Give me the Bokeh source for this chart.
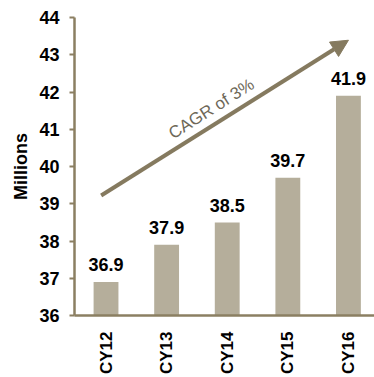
import math

from bokeh.core.properties import value
from bokeh.embed import file_html
from bokeh.models import (Arrow, ColumnDataSource, FixedTicker, Label,
                          NormalHead, Range1d, Title)
from bokeh.plotting import figure
from bokeh.resources import INLINE

# Yearly values, in millions
years = ["CY12", "CY13", "CY14", "CY15", "CY16"]
values = [36.9, 37.9, 38.5, 39.7, 41.9]
y_ticks = [36, 37, 38, 39, 40, 41, 42, 43, 44]

BAR = "#B5AE9B"
AXIS = "#8B7F62"
ARROW = "#857A5F"
FONT = "Liberation Sans"

idx = list(range(len(years)))
src = ColumnDataSource(dict(x=idx, top=values, label=[f"{v:.1f}" for v in values]))

p = figure(width=374, height=377, output_backend="svg", toolbar_location=None,
           x_range=Range1d(-0.52, 4.43), y_range=Range1d(36, 44),
           min_border_left=74, min_border_right=0, min_border_top=17,
           min_border_bottom=59)
p.outline_line_color = None
p.grid.visible = False
p.background_fill_color = "white"
p.border_fill_color = "white"

p.vbar(x="x", top="top", bottom=36, width=0.41, source=src,
       fill_color=BAR, line_color=None)

p.text(x="x", y="top", text="label", source=src, y_offset=-17,
       text_align="center", text_baseline="alphabetic",
       text_font=value(FONT), text_font_style="bold",
       text_font_size="18px", text_color="black")

# y axis
ya = p.yaxis[0]
ya.ticker = FixedTicker(ticks=y_ticks)
ya.axis_line_color = AXIS
ya.axis_line_width = 2.5
ya.major_tick_line_color = AXIS
ya.major_tick_line_width = 2
ya.major_tick_out = 5
ya.major_tick_in = 0
ya.minor_tick_line_color = None
ya.major_label_standoff = 10
ya.major_label_text_font = FONT
ya.major_label_text_font_style = "bold"
ya.major_label_text_font_size = "18px"
ya.major_label_text_color = "black"

# x axis with year labels
xa = p.xaxis[0]
xa.ticker = FixedTicker(ticks=idx)
xa.major_label_overrides = {i: y for i, y in zip(idx, years)}
xa.axis_line_color = AXIS
xa.axis_line_width = 2.5
xa.major_tick_line_color = None
xa.minor_tick_line_color = None
xa.major_label_orientation = math.pi / 2
xa.major_label_standoff = 10
xa.major_label_text_font = FONT
xa.major_label_text_font_style = "bold"
xa.major_label_text_font_size = "17px"
xa.major_label_text_color = "black"

# unit title on the left, shifted up along the axis
p.add_layout(Title(text="Millions", align="center", offset=30, standoff=12,
                   text_font=FONT, text_font_style="bold",
                   text_font_size="18px", text_color="black"), "left")

# growth arrow
p.add_layout(Arrow(x_start=-0.08, y_start=39.22, x_end=4.0, y_end=43.39,
                   line_color=ARROW, line_width=4,
                   end=NormalHead(size=17, fill_color=ARROW, line_color=ARROW)))

p.add_layout(Label(x=1.74, y=41.55, text="CAGR of 3%", angle=0.565,
                   text_align="center", text_baseline="middle",
                   text_font=FONT, text_font_size="17px",
                   text_color="#6E6858"))

open("out.html", "w").write(file_html(p, INLINE))
